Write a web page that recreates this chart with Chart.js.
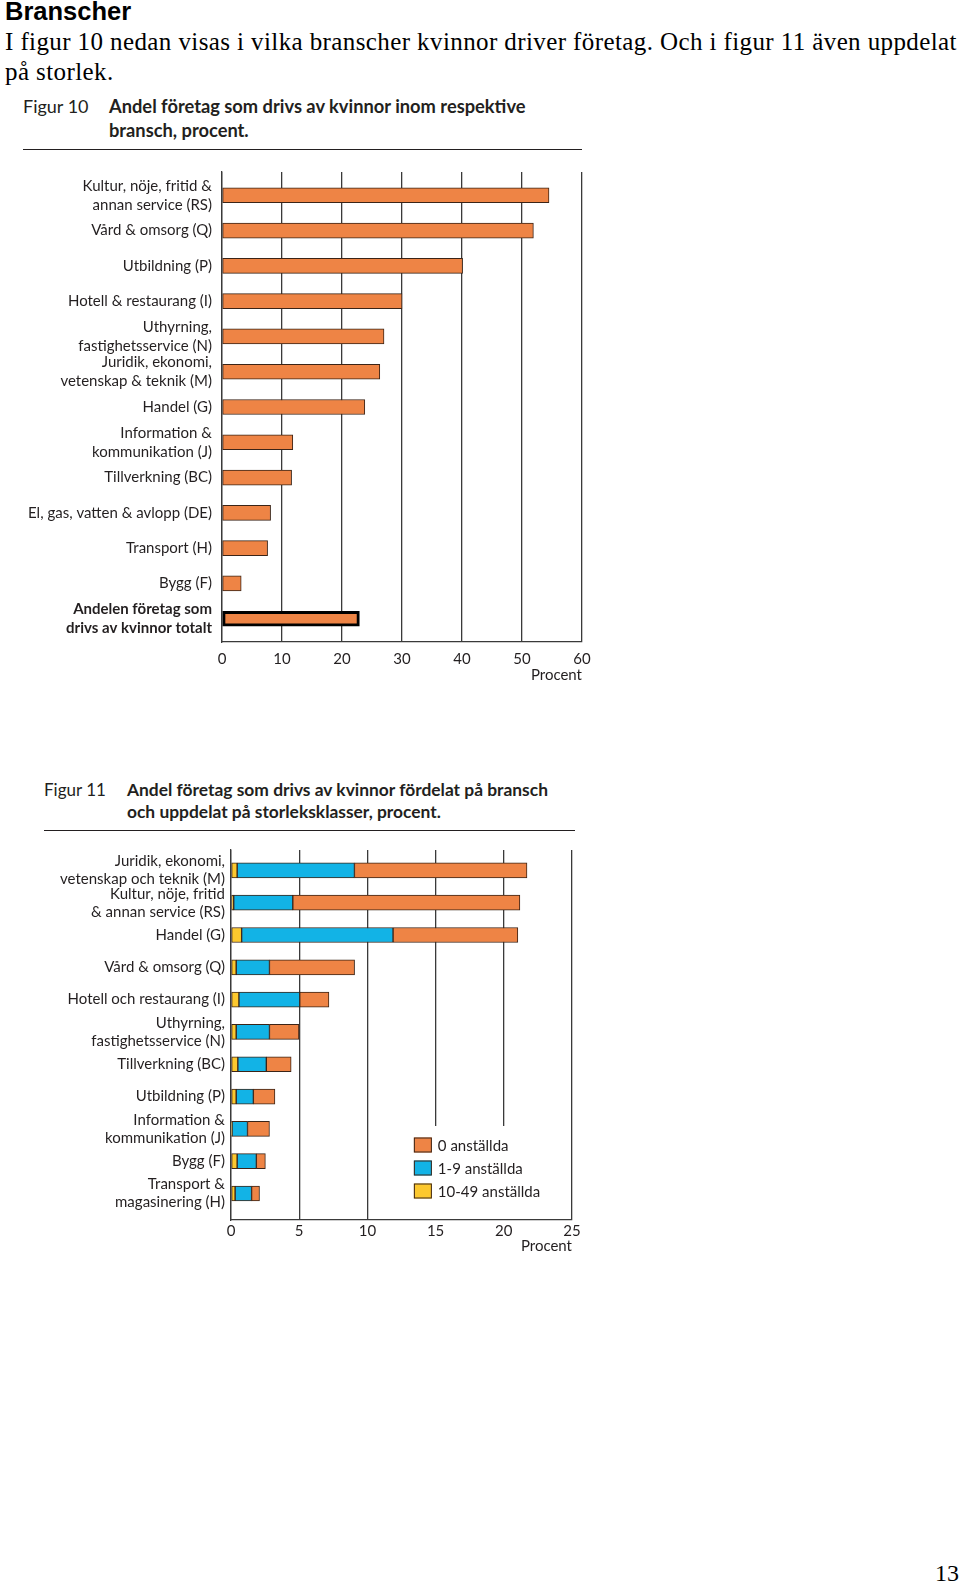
<!DOCTYPE html>
<html>
<head>
<meta charset="utf-8">
<script src="https://cdn.jsdelivr.net/npm/chart.js@4.4.0/dist/chart.umd.min.js"></script>
<style>
  body { margin: 0; background: #fff; width: 960px; height: 1583px; position: relative; overflow: hidden; }
  .abs { position: absolute; white-space: nowrap; }
  .h1 { font-family: "Liberation Sans", Arial, sans-serif; font-weight: bold; font-size: 25.5px; line-height: 26px; left: 5px; top: -2px; }
  .p { font-family: "Liberation Serif", "Times New Roman", serif; font-size: 25px; letter-spacing: 0.4px; left: 5px; line-height: 29.5px; top: 27px; }
  .fig { font-family: Lato, sans-serif; color: #231f20; }
  .fig b { font-weight: bold; }
  .rule { position: absolute; height: 1.3px; background: #231f20; }
  .pn { font-family: "Liberation Serif", serif; font-size: 24px; line-height: 24px; left: 935px; top: 1561px; }
  canvas { position: absolute; }
</style>
</head>
<body>
<div class="abs h1">Branscher</div>
<div class="abs p">I figur 10 nedan visas i vilka branscher kvinnor driver företag. Och i figur 11 även uppdelat<br>på storlek.</div>

<div class="abs fig" style="left:23px;top:94px;font-size:18px;line-height:24px;">Figur 10</div>
<div class="abs fig" style="left:109px;top:94px;font-size:18.3px;line-height:24px;"><b>Andel företag som drivs av kvinnor inom respektive<br>bransch, procent.</b></div>
<div class="rule" style="left:23px;top:149px;width:559px;"></div>

<div class="abs fig" style="left:44px;top:779px;font-size:17px;line-height:22px;">Figur 11</div>
<div class="abs fig" style="left:127px;top:779px;font-size:17.4px;line-height:22px;"><b>Andel företag som drivs av kvinnor fördelat på bransch<br>och uppdelat på storleksklasser, procent.</b></div>
<div class="rule" style="left:44px;top:830px;width:531px;"></div>

<canvas id="fig10" style="left:0;top:162px;"></canvas>
<canvas id="fig11" style="left:0;top:840px;"></canvas>

<div class="abs pn">13</div>

<script>
// Figur 10 – andel per bransch
const branscher10 = [
  ['Kultur, nöje, fritid &', 'annan service (RS)'],
  'Vård & omsorg (Q)',
  'Utbildning (P)',
  'Hotell & restaurang (I)',
  ['Uthyrning,', 'fastighetsservice (N)'],
  ['Juridik, ekonomi,', 'vetenskap & teknik (M)'],
  'Handel (G)',
  ['Information &', 'kommunikation (J)'],
  'Tillverkning (BC)',
  'El, gas, vatten & avlopp (DE)',
  'Transport (H)',
  'Bygg (F)',
  ['Andelen företag som', 'drivs av kvinnor totalt']
];
const andel10 = [54.5, 51.9, 40.1, 30.0, 27.0, 26.3, 23.8, 11.8, 11.6, 8.1, 7.6, 3.2, 22.9];
const ticks10 = [0, 10, 20, 30, 40, 50, 60];

// Figur 11 – uppdelat på storleksklasser
const branscher11 = [
  ['Juridik, ekonomi,', 'vetenskap och teknik (M)'],
  ['Kultur, nöje, fritid', '& annan service (RS)'],
  'Handel (G)',
  'Vård & omsorg (Q)',
  'Hotell och restaurang (I)',
  ['Uthyrning,', 'fastighetsservice (N)'],
  'Tillverkning (BC)',
  'Utbildning (P)',
  ['Information &', 'kommunikation (J)'],
  'Bygg (F)',
  ['Transport &', 'magasinering (H)']
];
const anst10_49 = [0.45, 0.2, 0.78, 0.38, 0.58, 0.38, 0.5, 0.38, 0.08, 0.45, 0.3];
const anst1_9   = [8.6, 4.33, 11.1, 2.44, 4.46, 2.44, 2.09, 1.26, 1.13, 1.41, 1.21];
const anst0     = [12.65, 16.65, 9.15, 6.24, 2.14, 2.16, 1.82, 1.58, 1.61, 0.66, 0.58];
const ticks11 = [0, 5, 10, 15, 20, 25];

const ORANGE = '#ee8445';
const BLUE = '#12b3e6';
const YELLOW = '#fcc82e';
const GRID = '#3a3a3a';
const TEXT = '#231f20';
const FONT = 'Lato';

function setupCanvas(id, w, h) {
  const c = document.getElementById(id);
  c.width = w; c.height = h;
  c.style.width = w + 'px'; c.style.height = h + 'px';
  return c.getContext('2d');
}

// shared x axis (value axis) settings
function valueAxis(ticks, height, pad, extra) {
  return Object.assign({
    min: ticks[0], max: ticks[ticks.length - 1],
    afterBuildTicks: s => { s.ticks = ticks.map(v => ({ value: v })); },
    afterFit: s => { s.height = height; s.paddingLeft = 0; s.paddingRight = 0; },
    grid: { color: GRID, lineWidth: 1.3, drawTicks: false },
    border: { display: true, color: GRID, width: 1.3 },
    ticks: { color: TEXT, font: { family: FONT, size: 15 }, padding: pad },
    title: { display: true, text: 'Procent', align: 'end', color: TEXT, font: { family: FONT, size: 15 }, padding: 0 }
  }, extra || {});
}

// category axis with a wider gap at top/bottom than the default half band
function categoryFit(width, n, offTop, offBottom) {
  return s => {
    s.width = width;
    s.paddingTop = 0;
    s.paddingBottom = 0;
    s._startValue = -offTop;
    s._valueRange = n - 1 + offTop + offBottom;
  };
}

// ---------- Figur 10 ----------
const ctx10 = setupCanvas('fig10', 600, 522);
new Chart(ctx10, {
  type: 'bar',
  data: {
    labels: branscher10,
    datasets: [{
      data: andel10,
      backgroundColor: ORANGE,
      borderColor: andel10.map((v, i) => i === andel10.length - 1 ? '#000' : '#3b2417'),
      borderWidth: andel10.map((v, i) => i === andel10.length - 1 ? 3 : 1),
      borderSkipped: false,
      barThickness: 15
    }]
  },
  options: {
    indexAxis: 'y',
    responsive: false,
    animation: false,
    layout: { padding: { top: 10, right: 18, left: 0, bottom: 0 } },
    plugins: { legend: { display: false }, tooltip: { enabled: false } },
    scales: {
      x: valueAxis(ticks10, 42, 8),
      y: {
        afterFit: categoryFit(222, branscher10.length, 0.66, 0.66),
        grid: { display: false, drawTicks: false },
        border: { display: true, color: GRID, width: 1.3 },
        ticks: {
          autoSkip: false,
          color: TEXT,
          padding: 10,
          font: c => ({ family: FONT, size: 15, weight: c.index === branscher10.length - 1 ? 'bold' : 'normal', lineHeight: 1.27 })
        }
      }
    }
  }
});

// ---------- Figur 11 ----------
// legend drawn inside the plot on a white box, like the original
const insideLegend = {
  id: 'insideLegend',
  beforeDatasetsDraw(chart) {
    const { ctx, chartArea, scales } = chart;
    const x0 = scales.x.getPixelForValue(12.6);
    const y0 = chartArea.bottom - 94;
    ctx.save();
    ctx.fillStyle = '#fff';
    ctx.fillRect(x0, y0, chartArea.right - x0 - 1, chartArea.bottom - y0 - 1);
    const items = [[ORANGE, '0 anställda'], [BLUE, '1-9 anställda'], [YELLOW, '10-49 anställda']];
    ctx.font = '15px ' + FONT;
    ctx.textBaseline = 'middle';
    items.forEach((it, i) => {
      const cy = y0 + 19 + i * 23;
      ctx.fillStyle = it[0];
      ctx.fillRect(x0 + 11, cy - 7.5, 18, 15);
      ctx.strokeStyle = '#3b2417';
      ctx.lineWidth = 1;
      ctx.strokeRect(x0 + 11.5, cy - 7, 17, 14);
      ctx.fillStyle = TEXT;
      ctx.fillText(it[1], x0 + 35, cy + 1);
    });
    ctx.restore();
  }
};

const ctx11 = setupCanvas('fig11', 600, 415);
const seg = (label, data, color) => ({
  label, data,
  backgroundColor: color,
  borderColor: '#3b2417',
  borderWidth: 1,
  borderSkipped: false,
  barThickness: 15
});
new Chart(ctx11, {
  type: 'bar',
  data: {
    labels: branscher11,
    datasets: [
      seg('10-49 anställda', anst10_49, YELLOW),
      seg('1-9 anställda', anst1_9, BLUE),
      seg('0 anställda', anst0, ORANGE)
    ]
  },
  options: {
    indexAxis: 'y',
    responsive: false,
    animation: false,
    layout: { padding: { top: 10, right: 28, left: 0, bottom: 0 } },
    plugins: { legend: { display: false }, tooltip: { enabled: false } },
    scales: {
      x: valueAxis(ticks11, 35, 2, { stacked: true }),
      y: {
        stacked: true,
        afterFit: categoryFit(231, branscher11.length, 0.63, 0.82),
        grid: { display: false, drawTicks: false },
        border: { display: true, color: GRID, width: 1.3 },
        ticks: { autoSkip: false, color: TEXT, padding: 6, font: { family: FONT, size: 15, lineHeight: 1.2 } }
      }
    }
  },
  plugins: [insideLegend]
});
</script>
</body>
</html>
